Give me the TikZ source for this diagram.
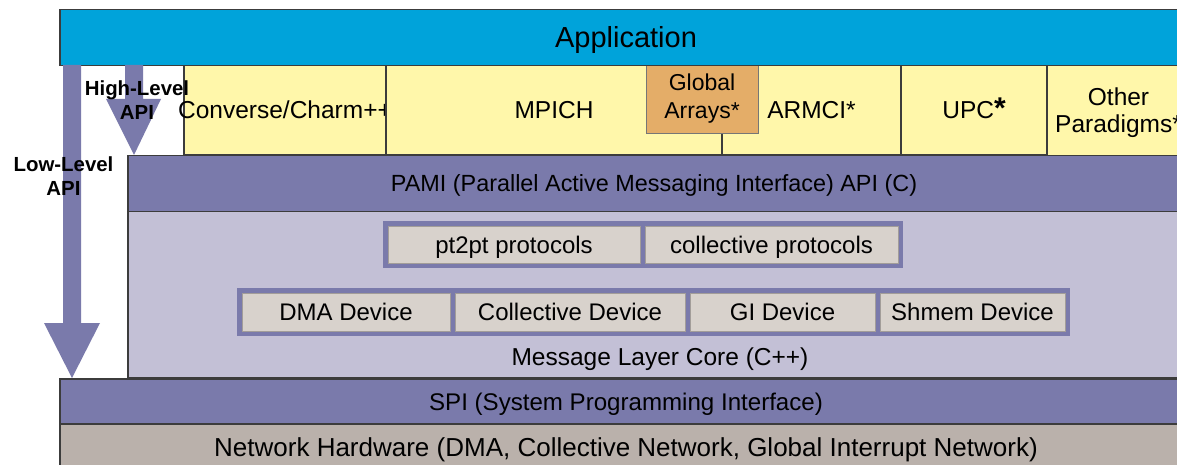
\documentclass[tikz,border=0pt]{standalone}
\usepackage{fontspec}
\setmainfont{Liberation Sans}
\definecolor{appblue}{RGB}{0,163,218}
\definecolor{yel}{RGB}{255,247,170}
\definecolor{gaorange}{RGB}{228,173,104}
\definecolor{purp}{RGB}{122,122,171}
\definecolor{lav}{RGB}{195,192,214}
\definecolor{pbox}{RGB}{216,210,204}
\definecolor{nethw}{RGB}{186,177,171}
\definecolor{edge}{RGB}{60,60,60}
\tikzset{
  layer/.style={draw=edge, line width=1.3pt, inner sep=0pt, text=black, align=center,
    font=\fontsize{24.5}{27}\selectfont, text height=17.5pt, text depth=0pt},
  grp/.style={fill=purp, draw=none, inner sep=0pt},
  proto/.style={fill=pbox, draw=pbox!75!black, line width=0.4pt, inner sep=0pt,
    font=\fontsize{24}{27}\selectfont, text height=17.2pt, text depth=0pt},
  apilabel/.style={font=\bfseries\fontsize{20.4}{24}\selectfont, align=center, inner sep=0pt,
    text height=38.6pt, text depth=0pt},
  plain/.style={inner sep=0pt, align=center, text height=17.5pt, text depth=0pt},
  blockarrow/.style={fill=purp, draw=none}
}
\begin{document}
\begin{tikzpicture}[x=1pt,y=-1pt]
\useasboundingbox[fill=white] (0,0) rectangle (1177,465);
% message layer core region and PAMI
\node[layer, fill=lav, minimum width=1052pt, minimum height=167pt] (mlc) at (654,294.5) {};
\node[layer, fill=purp, minimum width=1052pt, minimum height=56pt,
  font=\fontsize{23.4}{27}\selectfont, text height=16.8pt] (pami) at (654,183.5)
  {PAMI (Parallel Active Messaging Interface) API (C)};
% yellow programming models
\node[layer, fill=yel, minimum width=202pt, minimum height=90pt] (conv) at (285,110) {};
\node[plain, font=\fontsize{24.5}{27}\selectfont] (convtext) at (285,110) {Converse/Charm++};
\node[layer, fill=yel, minimum width=336pt, minimum height=90pt] (mpich) at (554,110) {MPICH};
\node[layer, fill=yel, minimum width=179pt, minimum height=90pt] (armci) at (811.5,110) {ARMCI*};
\node[layer, fill=yel, minimum width=146pt, minimum height=90pt] (upc) at (974,110)
  {UPC{\fontsize{30}{30}\selectfont\textbf{*}}};
\node[layer, fill=yel, minimum width=143pt, minimum height=90pt, text height=44.5pt] (other) at (1118.5,110.5) {Other\\Paradigms*};
\node[layer, fill=gaorange, draw=edge!70, line width=1pt, minimum width=112pt, minimum height=69pt] (ga) at (702,99.5) {};
\node[plain, font=\fontsize{23}{28}\selectfont, text height=44.5pt] (gatext) at (702,96) {Global\\Arrays*};
% application
\node[layer, fill=appblue, minimum width=1132pt, minimum height=56pt,
  font=\fontsize{29}{32}\selectfont, text height=20.8pt] (app) at (626,37.5) {Application};
% SPI and network
\node[layer, fill=purp, minimum width=1132pt, minimum height=46pt,
  font=\fontsize{24.1}{27}\selectfont, text height=17.3pt] (spi) at (626,402)
  {SPI (System Programming Interface)};
\node[layer, fill=nethw, minimum width=1132pt, minimum height=46pt,
  font=\fontsize{26}{28}\selectfont, text height=18.6pt] (net) at (626,447)
  {Network Hardware (DMA, Collective Network, Global Interrupt Network)};
% protocols
\node[grp, minimum width=520pt, minimum height=47pt] (pgrp) at (643,244.5) {};
\node[proto, minimum width=252pt, minimum height=37pt] (pt2pt) at (514,244.5) {pt2pt protocols};
\node[proto, minimum width=253pt, minimum height=37pt] (collp) at (771.5,244.5) {collective protocols};
% devices
\node[grp, minimum width=833pt, minimum height=48pt] (dgrp) at (653.5,312) {};
\node[proto, minimum width=208pt, minimum height=38pt] (dma) at (346,312) {DMA Device};
\node[proto, minimum width=230pt, minimum height=38pt] (cdev) at (570,312) {Collective Device};
\node[proto, minimum width=185pt, minimum height=38pt] (gi) at (782.5,312) {GI Device};
\node[proto, minimum width=185pt, minimum height=38pt] (shm) at (972.5,312) {Shmem Device};
\node[plain, font=\fontsize{24.5}{27}\selectfont] (mlclabel) at (660,357) {Message Layer Core (C++)};
% API arrows
\coordinate (lowtip) at (72,378);
\coordinate (hightip) at (134,155);
\fill[blockarrow] (63,65) -- (81,65) -- (81,323) -- (100,323) -- (lowtip) -- (44,323) -- (63,323) -- cycle;
\fill[blockarrow] (125,65) -- (143,65) -- (143,99) -- (161,99) -- (hightip) -- (106,99) -- (125,99) -- cycle;
\node[apilabel] (hl) at (137,100) {High-Level\\API};
\node[apilabel] (ll) at (63.5,176) {Low-Level\\API};
\end{tikzpicture}
\end{document}
